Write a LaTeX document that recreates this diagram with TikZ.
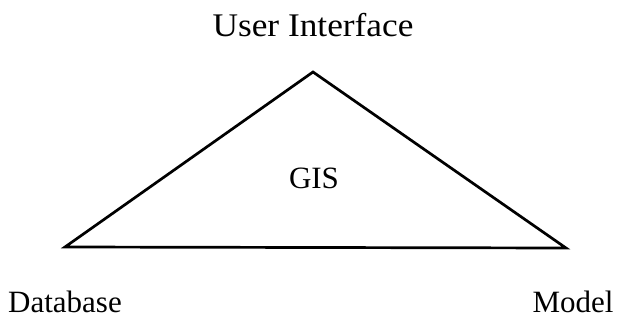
\documentclass[tikz,border=0pt]{standalone}
\usepackage{fontspec}
\setmainfont{Liberation Serif}
\begin{document}
\begin{tikzpicture}[x=1pt,y=-1pt,
  lbl/.style={font=\fontsize{31}{36}\selectfont, inner sep=0pt, anchor=base},
  edge/.style={line width=2.7pt, line join=miter}]
\useasboundingbox (0,0) rectangle (625,321);
\coordinate (top) at (313,72);
\coordinate (left) at (65,247);
\coordinate (right) at (566,248);
\draw[edge] (top) -- (left) -- (right) -- cycle;
\node[lbl] (ui) at (313,37) {\scalebox{1.07}[1]{\fontsize{33}{38}\selectfont User Interface}};
\node[lbl] (gis) at (314,189) {GIS};
\node[lbl] (db) at (65,312) {Database};
\node[lbl] (model) at (573,312) {Model};
\end{tikzpicture}
\end{document}
